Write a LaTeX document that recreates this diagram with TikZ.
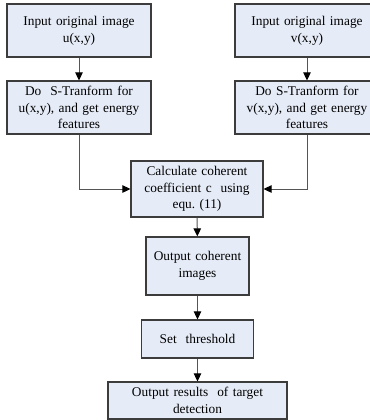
\documentclass[tikz,border=0pt]{standalone}
\usepackage{fontspec}
\setmainfont{Liberation Serif}
\usetikzlibrary{arrows.meta}
\definecolor{boxfill}{RGB}{230,236,247}
\definecolor{boxline}{RGB}{60,60,60}
\definecolor{conline}{RGB}{85,85,85}
\begin{document}
\begin{tikzpicture}[x=1bp,y=-1bp,
  font=\fontsize{13.4}{16.8}\selectfont,
  box/.style={draw=boxline, fill=boxfill, line width=1.2bp, align=center, inner sep=0pt},
  flow/.style={draw=conline, line width=1bp, -{Triangle[length=8bp,width=7.5bp,color=black,fill=black]}}]
\useasboundingbox (0,0) rectangle (370,420);
\clip (0,0) rectangle (370,420);
% left column
\node[box, minimum width=144bp, minimum height=53bp, text width=138bp] (inL) at (79,30.5) {Input original image\\u(x,y)};
\node[box, minimum width=144bp, minimum height=53bp, text width=138bp] (stL) at (79,107.5) {Do\ \ S-Tranform for\\u(x,y), and get energy\\features};
% right column
\node[box, minimum width=144bp, minimum height=53bp, text width=138bp] (inR) at (307,30.5) {Input original image\\v(x,y)};
\node[box, minimum width=144bp, minimum height=53bp, text width=138bp] (stR) at (307,107.5) {Do S-Tranform for\\v(x,y), and get energy\\features};
% centre column
\node[box, minimum width=132bp, minimum height=56bp, text width=126bp] (calc) at (197,189) {Calculate coherent\\coefficient c\ \ using\\equ.\ (11)};
\node[box, minimum width=103bp, minimum height=58bp, text width=97bp] (coh) at (197.5,266) {Output coherent\\images};
\node[box, minimum width=112bp, minimum height=38bp, text width=106bp] (thr) at (197.5,339) {Set\ \ threshold};
\node[box, minimum width=179bp, minimum height=37bp, text width=173bp] (res) at (197.5,400.5) {Output results\ \ of target\\detection};
% connectors
\draw[flow] (inL) -- (stL);
\draw[flow] (inR) -- (stR);
\draw[flow] (stL.south) |- (calc.west);
\draw[flow] (stR.south) |- (calc.east);
\draw[flow] (calc) -- (coh);
\draw[flow] (coh) -- (thr);
\draw[flow] (thr) -- (res);
\end{tikzpicture}
\end{document}
